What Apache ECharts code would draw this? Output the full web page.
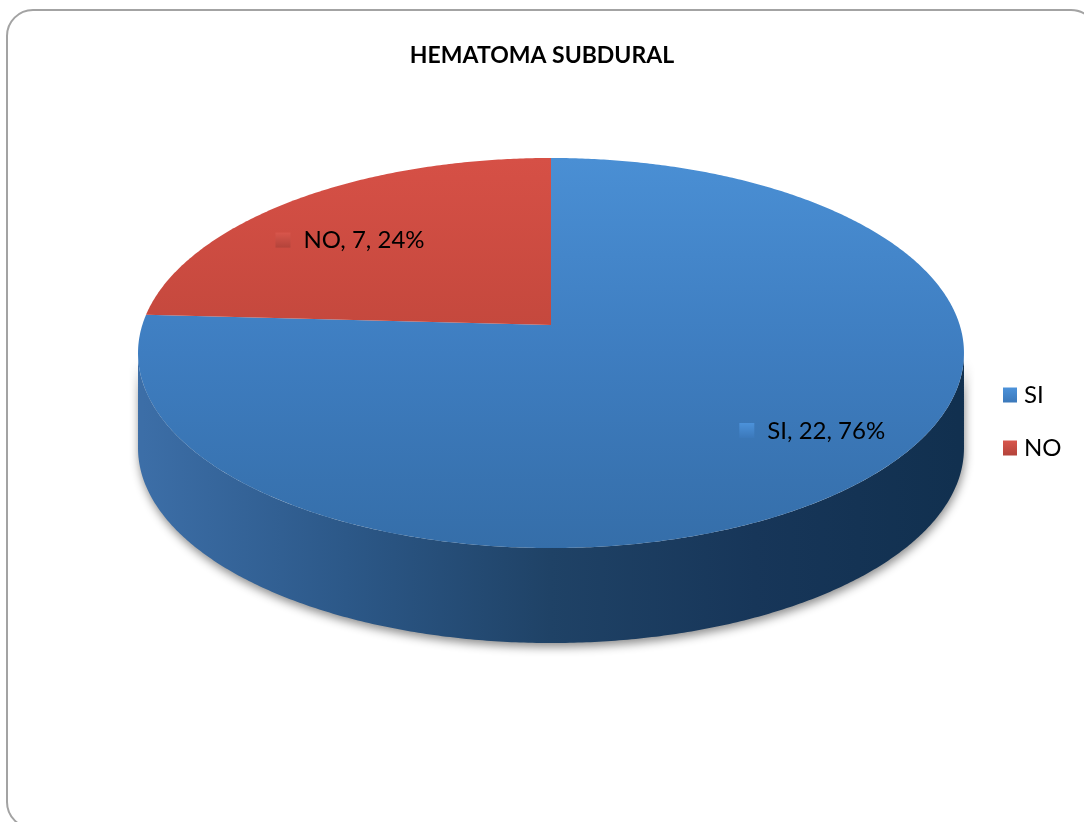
<!DOCTYPE html>
<html>
<head>
<meta charset="utf-8">
<title>HEMATOMA SUBDURAL</title>
<script src="https://cdn.jsdelivr.net/npm/echarts@6/dist/echarts.min.js"></script>
<style>
  html, body { margin: 0; padding: 0; background: #ffffff; }
  #chart { width: 1084px; height: 822px; }
</style>
</head>
<body>
<div id="chart"></div>
<script>
// Chart data
const chartTitle = 'HEMATOMA SUBDURAL';
const categories = ['SI', 'NO'];
const counts = [22, 7];

// Colours per category: top face gradient, side wall gradient, legend / label swatch
const topColors = { SI: ['#4a8fd4', '#3e7dc0', '#356ea9'], NO: ['#d65046', '#c2473c', '#a93f32'] };
const sideColors = { SI: ['#3c6ea7', '#2c5888', '#1f4266', '#173659', '#11304f'], NO: ['#a83d32', '#7a2a22'] };
const swatchColors = { SI: ['#4c92da', '#3b78ba'], NO: ['#d8564c', '#b3433a'] };

// Tilted-disc geometry (pixels) and label placement tweaks
const PIE = { cx: 551, cy: 325, rx: 408.7, ry: 191, persp: 0.1436, depth: 95 };
const LABEL_R = 0.8;
const labelNudge = { SI: [-57, -15], NO: [-68, 18] };
const FONT = 'Lato, "Noto Sans", sans-serif';

const total = counts.reduce((a, b) => a + b, 0);
const startAngles = [];
counts.reduce((acc, v, i) => { startAngles[i] = acc / total * Math.PI * 2; return acc + v; }, 0);

// Project a point on the disc (angle clockwise from 12 o'clock, radius fraction) to screen
function proj(theta, r, dz) {
  const u = r * Math.sin(theta);
  const v = r * Math.cos(theta);
  const w = 1 + PIE.persp * v;
  return [PIE.cx + PIE.rx * u / w, PIE.cy - PIE.ry * v / w + (dz || 0)];
}

function rim(a, b, dz) {
  const pts = [];
  const n = Math.max(2, Math.ceil((b - a) / (Math.PI / 360)));
  for (let i = 0; i <= n; i++) pts.push(proj(a + (b - a) * i / n, 1, dz));
  return pts;
}

function stops(colors) {
  return colors.map((c, i) => ({ offset: i / (colors.length - 1), color: c }));
}

const silhouetteA = Math.acos(-PIE.persp);
const silhouetteB = Math.PI * 2 - silhouetteA;

function makeRenderItem(idx) {
  return function (params, api) {
    const name = categories[idx];
    const value = api.value(0);
    const a = startAngles[idx];
    const b = a + value / total * Math.PI * 2;
    const children = [];

    // Visible side wall (front half of the cylinder)
    const lo = Math.max(a, silhouetteA);
    const hi = Math.min(b, silhouetteB);
    if (hi > lo) {
      const top = rim(lo, hi, 0);
      const bottom = rim(lo, hi, PIE.depth).reverse();
      children.push({
        type: 'polygon',
        shape: { points: top.concat(bottom) },
        style: {
          fill: new echarts.graphic.LinearGradient(PIE.cx - PIE.rx, 0, PIE.cx + PIE.rx, 0, stops(sideColors[name]), true),
          shadowBlur: 10,
          shadowOffsetX: 1,
          shadowOffsetY: 4,
          shadowColor: 'rgba(0,0,0,0.45)'
        }
      });
    }

    // Top face
    const topY = PIE.cy - PIE.ry / (1 + PIE.persp);
    const botY = PIE.cy + PIE.ry / (1 - PIE.persp);
    children.push({
      type: 'polygon',
      shape: { points: [proj(0, 0, 0)].concat(rim(a, b, 0)) },
      style: {
        fill: new echarts.graphic.LinearGradient(0, topY, 0, botY, stops(topColors[name]), true)
      }
    });

    // Data label: swatch + "name, value, percent"
    const mid = (a + b) / 2;
    const p = proj(mid, LABEL_R, 0);
    const lx = p[0] + labelNudge[name][0];
    const ly = p[1] + labelNudge[name][1];
    const pct = Math.round(value / total * 100);
    children.push({
      type: 'rect',
      shape: { x: lx, y: ly - 8, width: 15, height: 15 },
      style: { fill: new echarts.graphic.LinearGradient(0, 0, 0, 1, stops(swatchColors[name])) }
    });
    children.push({
      type: 'text',
      style: {
        x: lx + 28,
        y: ly,
        text: name + ', ' + value + ', ' + pct + '%',
        font: '24px ' + FONT,
        fill: '#000000',
        textAlign: 'left',
        textVerticalAlign: 'middle'
      }
    });

    return { type: 'group', children: children };
  };
}

const chart = echarts.init(document.getElementById('chart'), null, { renderer: 'canvas' });

chart.setOption({
  animation: false,
  backgroundColor: '#ffffff',
  graphic: [{
    type: 'rect',
    z: -10,
    shape: { x: 7, y: 10, width: 1090, height: 818, r: 26 },
    style: { fill: '#ffffff', stroke: '#a3a3a3', lineWidth: 2 }
  }],
  title: {
    text: chartTitle,
    left: 'center',
    top: 39,
    textStyle: { fontFamily: FONT, fontWeight: 'bold', fontSize: 23, color: '#000000' }
  },
  legend: {
    orient: 'vertical',
    left: 998,
    top: 378,
    icon: 'rect',
    itemWidth: 14,
    itemHeight: 15,
    itemGap: 29,
    textStyle: { fontFamily: FONT, fontSize: 24, color: '#000000', lineHeight: 24, padding: [0, 0, 0, 2] },
    data: categories.map(name => ({
      name: name,
      itemStyle: { color: new echarts.graphic.LinearGradient(0, 0, 0, 1, stops(swatchColors[name])) }
    }))
  },
  series: categories.map((name, i) => ({
    type: 'custom',
    name: name,
    coordinateSystem: 'none',
    silent: true,
    itemStyle: { color: topColors[name][0] },
    renderItem: makeRenderItem(i),
    data: [[counts[i]]]
  }))
});
</script>
</body>
</html>
